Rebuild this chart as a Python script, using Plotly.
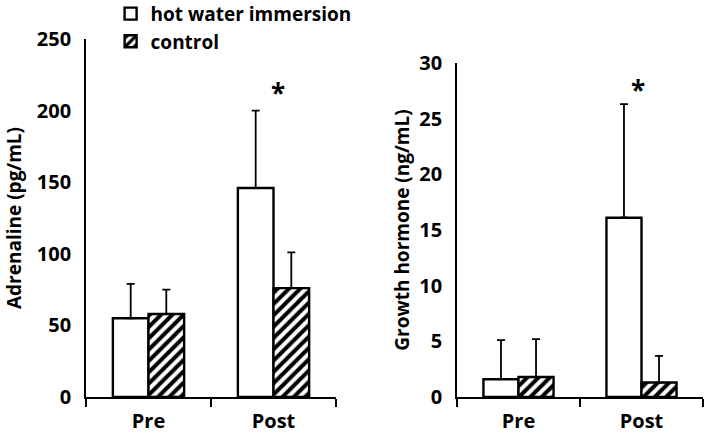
import plotly.graph_objects as go

categories = ["Pre", "Post"]
series_names = ["hot water immersion", "control"]

adrenaline_hot = [55, 146]
adrenaline_hot_err = [24, 54]
adrenaline_ctrl = [58, 76]
adrenaline_ctrl_err = [17, 25]

gh_hot = [1.6, 16.1]
gh_hot_err = [3.5, 10.2]
gh_ctrl = [1.8, 1.3]
gh_ctrl_err = [3.4, 2.4]

adrenaline_ticks = [0, 50, 100, 150, 200, 250]
gh_ticks = [0, 5, 10, 15, 20, 25, 30]

FONT = "Open Sans"
W, H = 709, 436


def px_x(p):
    return p / W


def px_y(p):
    return 1 - p / H


fig = go.Figure()


def add_bar(y, err, name, hatched, xa, ya, show):
    fig.add_trace(go.Bar(
        x=categories, y=y, name=name, xaxis=xa, yaxis=ya,
        showlegend=show, legendgroup=name,
        marker=dict(color="white", line=dict(color="black", width=2.4),
                    pattern=dict(shape="/" if hatched else "", fgcolor="black",
                                 bgcolor="white", fgopacity=1, size=8, solidity=0.5)),
        error_y=dict(type="data", array=err, arrayminus=[0]*len(err), symmetric=False,
                     color="black", thickness=1.8, width=4),
    ))


add_bar(adrenaline_hot, adrenaline_hot_err, series_names[0], False, "x", "y", True)
add_bar(adrenaline_ctrl, adrenaline_ctrl_err, series_names[1], True, "x", "y", True)
add_bar(gh_hot, gh_hot_err, series_names[0], False, "x2", "y2", False)
add_bar(gh_ctrl, gh_ctrl_err, series_names[1], True, "x2", "y2", False)

tickfont = dict(family=FONT, size=20, color="black", weight=700)
xcommon = dict(type="category", range=[-0.5, 1.5], showline=True, linecolor="black",
               linewidth=1.8, ticks="outside", tickson="boundaries", ticklen=8,
               tickcolor="black", tickwidth=1.8, showgrid=False, zeroline=False,
               tickfont=tickfont, ticklabelstandoff=5)
ycommon = dict(showline=True, linecolor="black", linewidth=1.8, ticks="",
               showgrid=False, zeroline=False, tickfont=tickfont, ticklabelstandoff=9)
titlefont = dict(family=FONT, size=19, color="black", weight=700)

fig.update_layout(
    width=W, height=H,
    margin=dict(l=0, r=0, t=0, b=0, autoexpand=False),
    paper_bgcolor="white", plot_bgcolor="white",
    barmode="group", bargap=0.43, bargroupgap=0,
    xaxis=dict(domain=[px_x(86), px_x(336)], anchor="y", **xcommon),
    yaxis=dict(domain=[px_y(397), px_y(39)], anchor="x", range=[0, 250],
               tickvals=adrenaline_ticks,
               title=dict(text="Adrenaline (pg/mL)", standoff=10, font=titlefont),
               **ycommon),
    xaxis2=dict(domain=[px_x(457), px_x(703)], anchor="y2", **xcommon),
    yaxis2=dict(domain=[px_y(397), px_y(63)], anchor="x2", range=[0, 30],
                tickvals=gh_ticks,
                title=dict(text="Growth hormone (ng/mL)", standoff=5, font=titlefont),
                **ycommon),
    legend=dict(x=0.156, y=1.012, xanchor="left", yanchor="top",
                font=dict(family=FONT, size=19, color="black", weight=700),
                bgcolor="rgba(0,0,0,0)", tracegroupgap=0, itemwidth=30),
    annotations=[
        dict(x="Post", y=212, xref="x", yref="y", text="*", showarrow=False, xshift=4,
             font=dict(family=FONT, size=26, color="black", weight=700)),
        dict(x="Post", y=27.6, xref="x2", yref="y2", text="*", showarrow=False, xshift=-4,
             font=dict(family=FONT, size=26, color="black", weight=700)),
    ],
)

fig.write_html("out.html", config={"displayModeBar": False},
               post_script="document.body.style.margin='0';")
